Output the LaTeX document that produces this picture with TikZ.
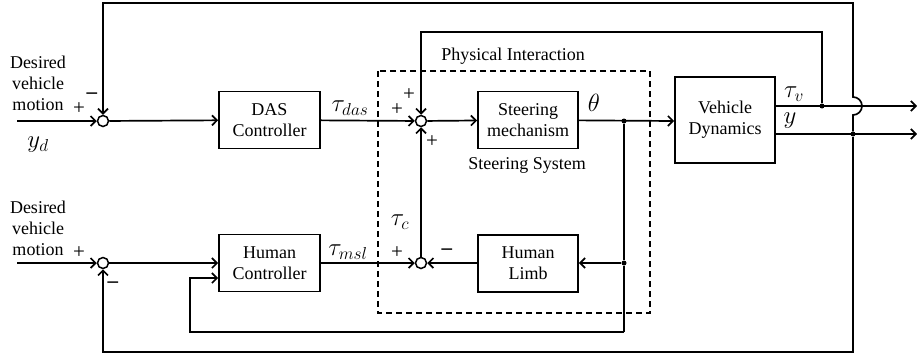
\documentclass[tikz,border=0pt]{standalone}
\usepackage{fontspec}
\setmainfont{Liberation Serif}
\usetikzlibrary{arrows.meta}
\begin{document}
\begin{tikzpicture}[x=1pt,y=-1pt,
  every node/.style={font=\rmfamily\fontsize{18}{21}\selectfont, inner sep=0pt},
  blk/.style={draw, line width=1.7pt, minimum width=101pt, minimum height=57pt, align=center},
  sumj/.style={draw, circle, line width=1.5pt, minimum size=11pt, fill=white},
  dotn/.style={circle, fill, minimum size=5pt},
  wire/.style={line width=1.7pt},
  arr/.style={wire, -{Straight Barb[length=5pt,width=10pt]}},
  sgn/.style={font=\rmfamily\fontsize{21}{22}\selectfont},
  lbl/.style={font=\fontsize{24}{26}\selectfont},
  txt/.style={align=center},
  dashbox/.style={draw, line width=1.4pt, dash pattern=on 6pt off 4pt},
]
\useasboundingbox (0,0) rectangle (917,354);

% dashed box
\draw[dashbox] (378,71) rectangle (650,313);

% blocks
\node[blk] (das) at (269.5,120) {DAS\\Controller};
\node[blk] (hc) at (269.5,263) {Human\\Controller};
\node[blk, minimum width=100pt] (sm) at (528,120) {Steering\\mechanism};
\node[blk, minimum width=100pt] (hl) at (528,263.5) {Human\\Limb};
\node[blk, minimum width=100pt, minimum height=86pt] (vd) at (725,120) {Vehicle\\Dynamics};

% summing junctions
\node[sumj] (s1) at (103,121) {};
\node[sumj] (s2) at (421,121) {};
\node[sumj] (s3) at (103,263) {};
\node[sumj] (s4) at (421,263) {};

% branch points
\node[dotn] (d1) at (624,121) {};
\node[dotn] (d2) at (624,263) {};
\node[dotn] (d3) at (822,106) {};
\node[dotn] (d4) at (853,134) {};

% free ends
\coordinate (in1) at (17,121);
\coordinate (in2) at (17,263);
\coordinate (o1) at (917,106);
\coordinate (o2) at (917,134);
\coordinate (tl) at (103,3);
\coordinate (tr) at (853,3);
\coordinate (ml) at (421,32);
\coordinate (mr) at (822,32);
\coordinate (bl) at (103,352);
\coordinate (br) at (853,352);
\coordinate (hb) at (853,115);
\coordinate (ht) at (853,97);
\coordinate (il) at (190,332);
\coordinate (ir) at (624,332);
\coordinate (hin) at (190,278);

% forward paths
\draw[arr] (in1) -- (s1);
\draw[arr] (s1) -- (das);
\draw[arr] (das) -- (s2);
\draw[arr] (s2) -- (sm);
\draw[arr] (sm) -- (vd.west |- d1);
\draw[arr] (vd.east |- d3) -- (o1);
\draw[arr] (vd.east |- d4) -- (o2);
\draw[arr] (in2) -- (s3);
\draw[arr] (s3) -- (hc.west |- s3);
\draw[arr] (hc.east |- s4) -- (s4);
\draw[arr] (hl.west |- s4) -- (s4);
\draw[arr] (s4) -- (s2);
\draw[arr] (d2) -- (hl.east |- d2);

% feedback paths
\draw[wire] (d1) -- (d2) -- (ir);
\draw[arr] (ir) -- (il) -- (hin) -- (hc.west |- hin);
\draw[arr] (d3) -- (mr) -- (ml) -- (s2);
\draw[arr] (d4) -- (hb) arc[start angle=-90, end angle=90, radius=9pt] -- (tr) -- (tl) -- (s1);
\draw[arr] (d4) -- (br) -- (bl) -- (s3);

% labels
\node[txt] (dvm1) at (38,83) {Desired\\vehicle\\motion};
\node[txt] (dvm2) at (38,228) {Desired\\vehicle\\motion};
\node[lbl] (yd) at (38,145) {$y_d$};
\node[lbl] (tdas) at (350,108) {$\tau_{das}$};
\node[lbl] (tmsl) at (348,252) {$\tau_{msl}$};
\node[lbl] (tc) at (400,222) {$\tau_c$};
\node[lbl] (th) at (594,103) {$\theta$};
\node[lbl] (tv) at (794,94) {$\tau_v$};
\node[lbl] (yy) at (790,121) {$y$};
\node (pi) at (513,56) {Physical Interaction};
\node (ss) at (527,165) {Steering System};

% signs
\node[sgn] (p1) at (79,109) {+};
\node[sgn] (m1) at (92,96) {\textbf{--}};
\node[sgn] (p2a) at (397,110) {+};
\node[sgn] (p2b) at (409,95) {+};
\node[sgn] (p2c) at (432,142) {+};
\node[sgn] (p3) at (79,253) {+};
\node[sgn] (m3) at (113,285) {\textbf{--}};
\node[sgn] (p4) at (397,253) {+};
\node[sgn] (m4) at (447,252) {\textbf{--}};
\end{tikzpicture}
\end{document}
